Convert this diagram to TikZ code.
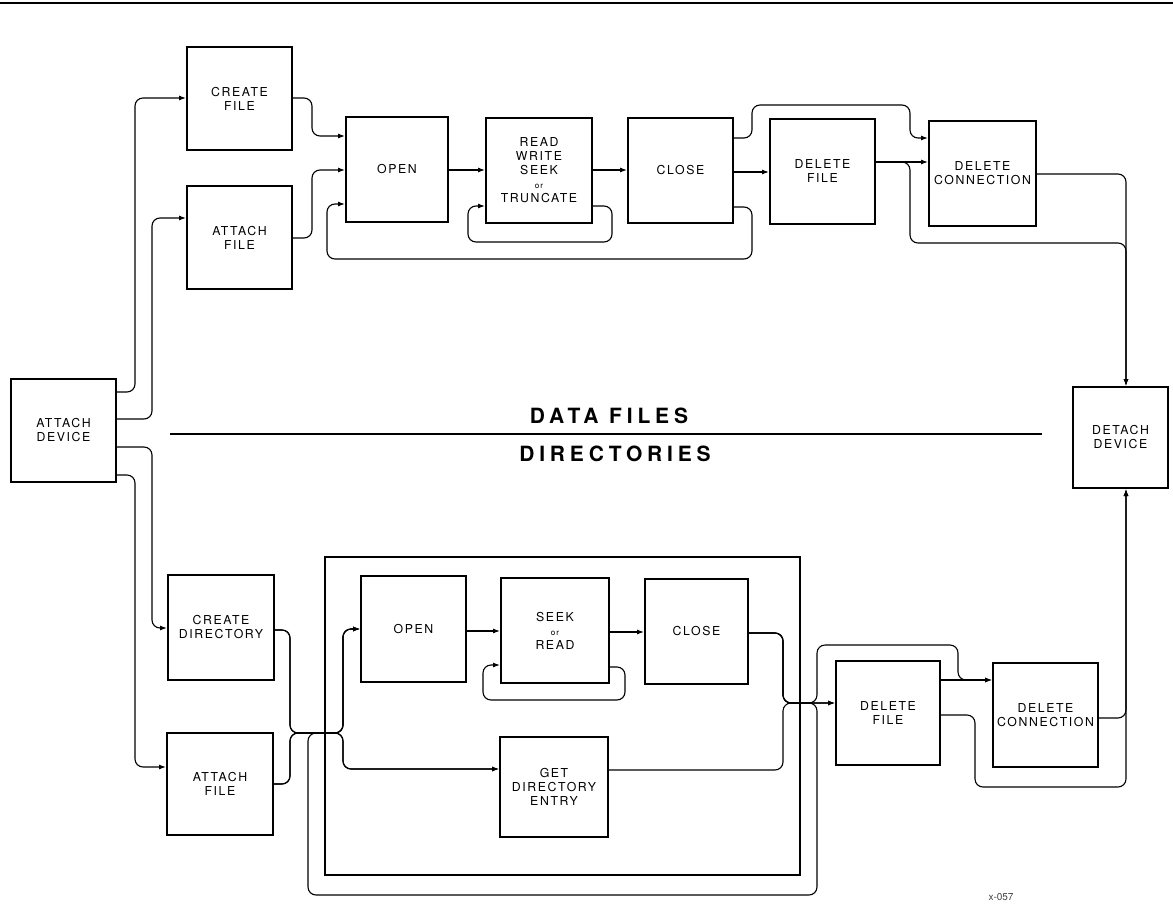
\documentclass[tikz,border=0pt]{standalone}
\usepackage{fontspec}
\setmainfont{TeX Gyre Heros}
\newfontfamily\lblfont[LetterSpace=13]{TeX Gyre Heros}
\newfontfamily\ttlfont[LetterSpace=23]{TeX Gyre Heros}
\usetikzlibrary{arrows.meta}
\begin{document}
\begin{tikzpicture}[x=1pt,y=-1pt,
  boxst/.style={draw,line width=2pt,inner sep=0pt,minimum width=105pt,minimum height=104pt,
    align=center,font={\lblfont\fontsize{12.3}{14}\selectfont}},
  conn/.style={line width=1.1pt,rounded corners=8pt},
  arr/.style={conn,-{Latex[length=7pt,width=5pt]}},
  ttl/.style={font={\ttlfont\bfseries\fontsize{21}{24}\selectfont}}]
\useasboundingbox (0,0) rectangle (1173,908);
\draw[line width=2pt] (0,3) -- (1173,3);
% ---------- top row (data files)
\node[boxst,minimum height=103pt] (cf) at (239.5,98.5) {CREATE\\FILE};
\node[boxst,minimum height=103pt] (af) at (239.5,237.5) {ATTACH\\FILE};
\node[boxst,minimum width=102pt,minimum height=105pt] (op) at (397,169.5) {OPEN};
\node[boxst,minimum width=106pt,minimum height=105pt] (rw) at (539,170.5)
  {READ\\WRITE\\SEEK\\{\fontsize{8}{14}\selectfont or}\\TRUNCATE};
\node[boxst,minimum height=105pt] (cl) at (680.5,170.5) {CLOSE};
\node[boxst,minimum height=105pt] (df) at (822.5,171.5) {DELETE\\FILE};
\node[boxst,minimum width=107pt,minimum height=105pt] (dc) at (982.5,173.5) {DELETE\\CONNECTION};
% ---------- middle
\node[boxst,minimum height=103pt] (ad) at (63.5,430.5) {ATTACH\\DEVICE};
\node[boxst,minimum width=95pt,minimum height=101pt] (dd) at (1120.5,437.5) {DETACH\\DEVICE};
\draw[line width=1.5pt] (170,434) -- (1042,434);
\node[ttl] (tdf) at (609,416) {DATA FILES};
\node[ttl] (tdr) at (615,454) {DIRECTORIES};
% ---------- bottom row (directories)
\node[draw,line width=2.5pt,minimum width=475pt,minimum height=318pt,inner sep=0pt] (big) at (562.5,716) {};
\node[boxst,minimum width=106pt,minimum height=105pt] (cd) at (221,627.5) {CREATE\\DIRECTORY};
\node[boxst,minimum width=106pt,minimum height=102pt] (af2) at (220,784) {ATTACH\\FILE};
\node[boxst,minimum height=106pt] (op2) at (413.5,629) {OPEN};
\node[boxst,minimum width=108pt,minimum height=105pt] (sr) at (555,630.5)
  {SEEK\\{\fontsize{8}{14}\selectfont or}\\READ};
\node[boxst,minimum width=103pt,minimum height=105pt] (cl2) at (696.5,631.5) {CLOSE};
\node[boxst,minimum width=108pt,minimum height=100pt] (gd) at (554,787) {GET\\DIRECTORY\\ENTRY};
\node[boxst,minimum width=104pt,minimum height=104pt] (df2) at (888,713) {DELETE\\FILE};
\node[boxst,minimum width=105pt,minimum height=104pt] (dc2) at (1045.5,715) {DELETE\\CONNECTION};
\node[font={\fontsize{10}{12}\selectfont},text=black!75] (fig) at (1001,897) {x-057};
% ---------- connectors: attach device
\draw[arr] (ad.east |- 0,392) -- (135,392) -- (135,98) -- (cf.west |- 0,98);
\draw[arr] (ad.east |- 0,419) -- (152,419) -- (152,218) -- (af.west |- 0,218);
\draw[arr] (ad.east |- 0,447) -- (152,447) -- (152,628) -- (cd.west |- 0,628);
\draw[arr] (ad.east |- 0,475) -- (135,475) -- (135,767) -- (af2.west |- 0,767);
% ---------- connectors: top row
\draw[arr] (cf.east |- 0,98) -- (312,98) -- (312,136) -- (op.west |- 0,136);
\draw[arr] (af.east |- 0,238) -- (312,238) -- (312,170) -- (op.west |- 0,170);
\draw[arr] (cl.east |- 0,207) -- (752,207) -- (752,259) -- (327,259) -- (327,204) -- (op.west |- 0,204);
\draw[arr] (op.east |- 0,170) -- (rw.west |- 0,170);
\draw[arr] (rw.east |- 0,206) -- (612,206) -- (612,242) -- (468,242) -- (468,206) -- (rw.west |- 0,206);
\draw[arr] (rw.east |- 0,170) -- (cl.west |- 0,170);
\draw[arr] (cl.east |- 0,172) -- (df.west |- 0,172);
\draw[arr] (cl.east |- 0,138) -- (752,138) -- (752,105) -- (910,105) -- (910,138) -- (dc.west |- 0,138);
\draw[arr] (df.east |- 0,162) -- (dc.west |- 0,162);
\draw[arr] (df.east |- 0,162) -- (910,162) -- (910,243) -- (1126,243) -- (dd.north -| 1126,0);
\draw[arr] (dc.east |- 0,174) -- (1126,174) -- (dd.north -| 1126,0);
% ---------- connectors: bottom row
\draw[arr] (cd.east |- 0,630) -- (290,630) -- (290,733) -- (343,733) -- (343,629) -- (op2.west |- 0,629);
\draw[arr] (cd.east |- 0,630) -- (290,630) -- (290,733) -- (343,733) -- (343,769) -- (gd.west |- 0,769);
\draw[arr] (af2.east |- 0,784) -- (290,784) -- (290,733) -- (343,733) -- (343,629) -- (op2.west |- 0,629);
\draw[arr] (af2.east |- 0,784) -- (290,784) -- (290,733) -- (343,733) -- (343,769) -- (gd.west |- 0,769);
\draw[arr] (op2.east |- 0,631) -- (sr.west |- 0,631);
\draw[arr] (sr.east |- 0,667) -- (625,667) -- (625,700) -- (483,700) -- (483,665) -- (sr.west |- 0,665);
\draw[arr] (sr.east |- 0,632) -- (cl2.west |- 0,632);
\draw[arr] (cl2.east |- 0,633) -- (783,633) -- (783,703) -- (df2.west |- 0,703);
\draw[arr] (gd.east |- 0,770) -- (783,770) -- (783,703) -- (df2.west |- 0,703);
\draw[arr] (cl2.east |- 0,633) -- (783,633) -- (783,703) -- (817,703) -- (817,645) -- (958,645) -- (958,680) -- (dc2.west |- 0,680);
\draw[arr] (cl2.east |- 0,633) -- (783,633) -- (783,703) -- (817,703) -- (817,895) -- (308,895) -- (308,733) -- (343,733) -- (343,629) -- (op2.west |- 0,629);
\draw[arr] (df2.east |- 0,680) -- (dc2.west |- 0,680);
\draw[arr] (df2.east |- 0,715) -- (975,715) -- (975,787) -- (1126,787) -- (dd.south -| 1126,0);
\draw[arr] (dc2.east |- 0,718) -- (1126,718) -- (dd.south -| 1126,0);
\end{tikzpicture}
\end{document}
